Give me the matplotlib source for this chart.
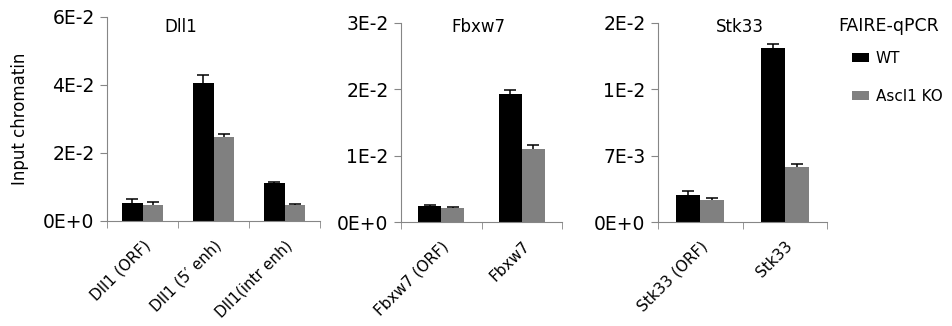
import numpy as np
import matplotlib
matplotlib.use("Agg")
import matplotlib.pyplot as plt
from matplotlib.patches import Patch

plt.rcParams['font.family'] = ['DejaVu Sans']

# ----------------------------
# Data
# ----------------------------
dll1_labels = ["Dll1 (ORF)", "Dll1 (5\u2032 enh)", "Dll1(intr enh)"]
dll1_wt = [0.0053, 0.0406, 0.0112]
dll1_wt_err = [0.0012, 0.0023, 0.0002]
dll1_ko = [0.0047, 0.0247, 0.0047]
dll1_ko_err = [0.0009, 0.0009, 0.0003]

fbxw7_labels = ["Fbxw7 (ORF)", "Fbxw7"]
fbxw7_wt = [0.0024, 0.0193]
fbxw7_wt_err = [0.0001, 0.0006]
fbxw7_ko = [0.0021, 0.0110]
fbxw7_ko_err = [0.0001, 0.0006]

stk33_labels = ["Stk33 (ORF)", "Stk33"]
stk33_wt = [0.00285, 0.01836]
stk33_wt_err = [0.00045, 0.0004]
stk33_ko = [0.00232, 0.0058]
stk33_ko_err = [0.0002, 0.0003]

dll1_ticks = [0, 0.02, 0.04, 0.06]
dll1_ticklabels = ["0E+0", "2E-2", "4E-2", "6E-2"]
fbxw7_ticks = [0, 0.01, 0.02, 0.03]
fbxw7_ticklabels = ["0E+0", "1E-2", "2E-2", "3E-2"]
stk33_ticks = [0, 0.007, 0.014, 0.021]
stk33_ticklabels = ["0E+0", "7E-3", "1E-2", "2E-2"]

series_names = ["WT", "Ascl1 KO"]
wt_color = "#000000"
ko_color = "#808080"
axis_color = "#868686"

W, H = 952, 326
fig = plt.figure(figsize=(W / 100, H / 100), dpi=100)


def px_axes(x0, x1, ytop, ybot):
    return fig.add_axes([x0 / W, 1 - ybot / H, (x1 - x0) / W, (ybot - ytop) / H])


def panel(ax, title, tx, labels, wt, wt_err, ko, ko_err, ticks, ticklabels):
    n = len(labels)
    x = np.arange(n)
    w = 0.285
    ax.bar(x - w / 2, wt, w, color=wt_color)
    ax.bar(x + w / 2, ko, w, color=ko_color)
    for xs, vals, errs in [(x - w / 2, wt, wt_err), (x + w / 2, ko, ko_err)]:
        eb = ax.errorbar(xs, vals, yerr=[np.zeros(n), errs], fmt="none",
                         ecolor="black", elinewidth=1.1, capsize=4.3, capthick=1.1)
        eb[1][0].set_visible(False)
    ax.set_xlim(-0.5, n - 0.5)
    ax.set_ylim(ticks[0], ticks[-1])
    ax.set_yticks(ticks)
    ax.set_yticklabels(ticklabels, fontsize=13.5)
    ax.set_xticks(x)
    ax.set_xticklabels(labels, rotation=45, ha="right", rotation_mode="anchor",
                       fontsize=11)
    ax.set_xticks(np.arange(n + 1) - 0.5, minor=True)
    ax.tick_params(axis="x", which="major", length=0, pad=12)
    ax.tick_params(axis="x", which="minor", length=5, color=axis_color, direction="out")
    ax.tick_params(axis="y", length=5, color=axis_color, pad=4)
    for s in ["top", "right"]:
        ax.spines[s].set_visible(False)
    for s in ["left", "bottom"]:
        ax.spines[s].set_color(axis_color)
    ax.patch.set_alpha(0)
    fig.text(tx / W, 1 - 27 / H, title, ha="center", va="center", fontsize=12)


ax1 = px_axes(107, 320, 17, 221)
panel(ax1, "Dll1", 181, dll1_labels, dll1_wt, dll1_wt_err, dll1_ko, dll1_ko_err,
      dll1_ticks, dll1_ticklabels)
ax1.set_ylabel("Input chromatin", fontsize=12, labelpad=10)

ax2 = px_axes(401, 562, 23, 222)
panel(ax2, "Fbxw7", 478, fbxw7_labels, fbxw7_wt, fbxw7_wt_err, fbxw7_ko, fbxw7_ko_err,
      fbxw7_ticks, fbxw7_ticklabels)

ax3 = px_axes(658, 827, 23, 222)
panel(ax3, "Stk33", 740, stk33_labels, stk33_wt, stk33_wt_err, stk33_ko, stk33_ko_err,
      stk33_ticks, stk33_ticklabels)

# legend
fig.text(838 / W, 1 - 26 / H, "FAIRE-qPCR", ha="left", va="center", fontsize=12.5)
handles = [Patch(facecolor=wt_color), Patch(facecolor=ko_color)]
fig.legend(handles, series_names, loc="upper left", bbox_to_anchor=(852 / W, 1 - 51 / H),
           frameon=False, fontsize=11, handlelength=1.1, handleheight=0.45,
           handletextpad=0.45, labelspacing=1.5, borderpad=0, borderaxespad=0)

fig.savefig("out.png", dpi=100)
